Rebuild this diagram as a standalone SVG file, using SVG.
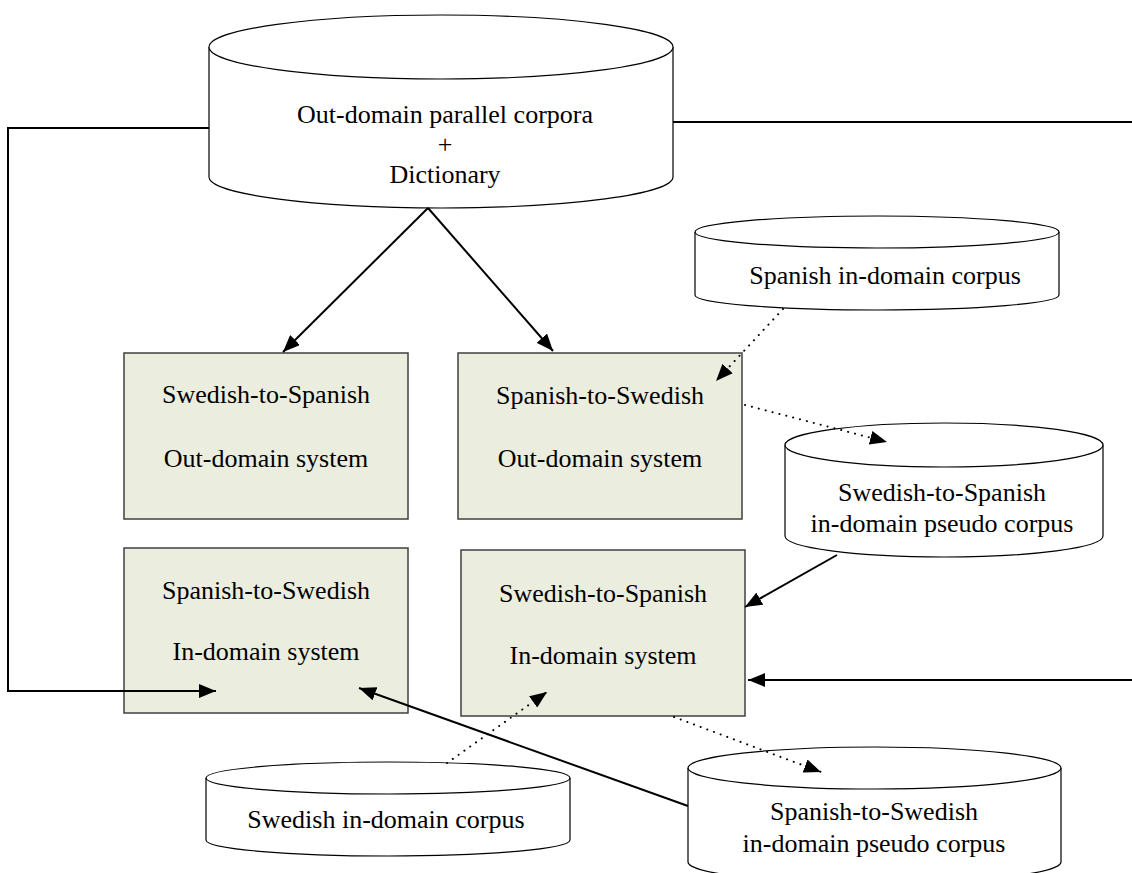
<svg xmlns="http://www.w3.org/2000/svg" width="1132" height="873" viewBox="0 0 1132 873">
<style>
.db{fill:#fff;stroke:#000;stroke-width:1.2}
.box{fill:#EBEEDF;stroke:#404040;stroke-width:1.5}
.t{font-family:"Liberation Serif","Times New Roman",serif;font-size:26px;text-anchor:middle;fill:#000}
.s{fill:none;stroke:#000;stroke-width:2}
.d{fill:none;stroke:#000;stroke-width:2;stroke-dasharray:0.1 7;stroke-linecap:round}
</style>
<defs>
<marker id="ah" markerUnits="userSpaceOnUse" markerWidth="18" markerHeight="14" refX="17" refY="7" orient="auto"><path d="M0,0 L17,7 L0,14 z" fill="#000"/></marker>
</defs>
<rect width="1132" height="873" fill="#fff"/>
<g id="outcorpus">
<path class="db" d="M209,47 V177 A232,31 0 0 0 673,177 V47"/>
<ellipse class="db" cx="441" cy="47" rx="232" ry="32"/>
<text class="t" x="445" y="123">Out-domain parallel corpora</text>
<text class="t" x="445" y="153">+</text>
<text class="t" x="445" y="183">Dictionary</text>
</g>
<g id="es-corpus">
<path class="db" d="M695,232 V295 A182,15 0 0 0 1059,295 V232"/>
<ellipse class="db" cx="877" cy="232" rx="182" ry="16"/>
<text class="t" x="885" y="284">Spanish in-domain corpus</text>
</g>
<g id="sv2es-pseudo">
<path class="db" d="M785,445 V536 A159,21 0 0 0 1103,536 V445"/>
<ellipse class="db" cx="944" cy="445" rx="159" ry="22"/>
<text class="t" x="942" y="501">Swedish-to-Spanish</text>
<text class="t" x="942" y="532">in-domain pseudo corpus</text>
</g>
<g id="sv-corpus">
<path class="db" d="M206,778 V840 A182,16 0 0 0 570,840 V778"/>
<ellipse class="db" cx="388" cy="778" rx="182" ry="16"/>
<text class="t" x="386" y="828">Swedish in-domain corpus</text>
</g>
<g id="es2sv-pseudo">
<path class="db" d="M688,768 V862 A186.5,21 0 0 0 1061,862 V768"/>
<ellipse class="db" cx="874.5" cy="768" rx="186.5" ry="21"/>
<text class="t" x="874" y="820">Spanish-to-Swedish</text>
<text class="t" x="874" y="852">in-domain pseudo corpus</text>
</g>
<g id="sv2es-out">
<rect class="box" x="124" y="353" width="284" height="166"/>
<text class="t" x="266" y="403">Swedish-to-Spanish</text>
<text class="t" x="266" y="467">Out-domain system</text>
</g>
<g id="es2sv-out">
<rect class="box" x="458" y="353" width="284" height="166"/>
<text class="t" x="600" y="404">Spanish-to-Swedish</text>
<text class="t" x="600" y="467">Out-domain system</text>
</g>
<g id="es2sv-in">
<rect class="box" x="124" y="548" width="284" height="165"/>
<text class="t" x="266" y="599">Spanish-to-Swedish</text>
<text class="t" x="266" y="660">In-domain system</text>
</g>
<g id="sv2es-in">
<rect class="box" x="461" y="550" width="284" height="166"/>
<text class="t" x="603" y="602">Swedish-to-Spanish</text>
<text class="t" x="603" y="664">In-domain system</text>
</g>
<g id="connectors">
<path class="s" d="M428,208 L283,352" marker-end="url(#ah)"/>
<path class="s" d="M428,208 L553,351" marker-end="url(#ah)"/>
<path class="s" d="M209,128 H8 V691 H216" marker-end="url(#ah)"/>
<path class="s" d="M673,122 H1132"/>
<path class="s" d="M1132,680 H748" marker-end="url(#ah)"/>
<path class="s" d="M837,555 L745,607" marker-end="url(#ah)"/>
<path class="s" d="M688,806 L359,688" marker-end="url(#ah)"/>
<path class="d" d="M783,309 L716,381" marker-end="url(#ah)"/>
<path class="d" d="M745,405 L887,442" marker-end="url(#ah)"/>
<path class="d" d="M447,763 L547,692" marker-end="url(#ah)"/>
<path class="d" d="M674,717 L821,772" marker-end="url(#ah)"/>
</g>
</svg>
